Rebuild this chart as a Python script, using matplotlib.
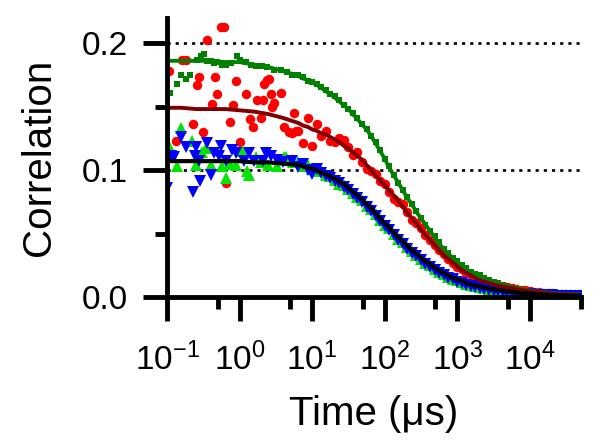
import matplotlib
matplotlib.use('Agg')
import matplotlib.pyplot as plt
from matplotlib.ticker import LogLocator, FixedLocator, NullFormatter, FormatStrFormatter

plt.rcParams['font.family'] = ['Liberation Sans', 'DejaVu Sans']
plt.rcParams['mathtext.fontset'] = 'custom'
plt.rcParams['mathtext.rm'] = 'Liberation Sans'
plt.rcParams['mathtext.it'] = 'Liberation Sans:italic'
plt.rcParams['mathtext.default'] = 'regular'

# ---------------- data (lag time in microseconds, correlation) ----------------
grid_t = [6.49, 7.50, 8.66, 10.0, 11.5, 13.3, 15.4, 17.8, 20.5, 23.7, 27.4, 31.6, 36.5, 42.2,
          48.7, 56.2, 64.9, 75.0, 86.6, 100, 115, 133, 154, 178, 205, 237, 274, 316, 365, 422,
          487, 562, 649, 750, 866, 1000, 1155, 1334, 1540, 1778, 2054, 2371, 2738, 3162, 3652,
          4217, 4870, 5623, 6494, 7499, 8660, 10000, 11550, 13340, 15400, 17780, 20540, 23710,
          27380, 31620, 36520, 42170, 48700]

# green squares
gsq_early_t = [0.110, 0.137, 0.156, 0.182, 0.207, 0.258, 0.293, 0.322, 0.355, 0.401, 0.442, 0.486,
               0.569, 0.645, 0.753, 0.915, 1.03, 1.22, 1.43, 1.67, 2.02, 2.36, 2.96, 3.68, 4.44, 5.21]
gsq_early_g = [0.161, 0.168, 0.175, 0.172, 0.175, 0.187, 0.190, 0.191, 0.186, 0.186, 0.184, 0.185,
               0.183, 0.183, 0.184, 0.190, 0.187, 0.185, 0.183, 0.182, 0.182, 0.181, 0.179, 0.179,
               0.177, 0.175]
gsq_dense_g = [0.175, 0.173, 0.170, 0.169, 0.168, 0.165, 0.163, 0.160, 0.158, 0.155, 0.151, 0.148,
               0.145, 0.141, 0.136, 0.132, 0.127, 0.122, 0.116, 0.109, 0.103, 0.096, 0.090, 0.084,
               0.079, 0.073, 0.068, 0.062, 0.057, 0.052, 0.048, 0.043, 0.038, 0.035, 0.031, 0.028,
               0.025, 0.023, 0.020, 0.018, 0.017, 0.015, 0.013, 0.012, 0.011, 0.0097, 0.0088,
               0.0081, 0.0073, 0.0066, 0.0059, 0.0053, 0.0047, 0.0042, 0.0038, 0.0034, 0.0032,
               0.0029, 0.0026, 0.0025, 0.0023, 0.0022, 0.0021]

# red circles
red_early_t = [0.106, 0.133, 0.161, 0.182, 0.227, 0.258, 0.275, 0.312, 0.355, 0.415, 0.456, 0.486,
               0.552, 0.620, 0.645, 0.730, 0.803, 0.886, 1.00, 1.22, 1.38, 1.52, 1.72, 1.95, 2.08,
               2.15, 2.36, 2.52, 2.69, 2.78, 2.96, 3.68, 4.04, 4.74, 5.21, 5.56, 5.93]
red_early_g = [0.178, 0.123, 0.187, 0.187, 0.136, 0.167, 0.173, 0.130, 0.202, 0.152, 0.173, 0.160,
               0.213, 0.213, 0.090, 0.138, 0.151, 0.170, 0.122, 0.160, 0.140, 0.134, 0.155, 0.141,
               0.155, 0.168, 0.171, 0.172, 0.160, 0.150, 0.153, 0.161, 0.134, 0.130, 0.129, 0.145,
               0.131]
red_dense_g = [0.131, 0.121, 0.141, 0.119, 0.136, 0.127, 0.131, 0.123, 0.122, 0.125, 0.124, 0.118,
               0.112, 0.114, 0.106, 0.101, 0.099, 0.097, 0.091, 0.089, 0.083, 0.077, 0.075, 0.073,
               0.067, 0.061, 0.058, 0.054, 0.049, 0.045, 0.041, 0.037, 0.034, 0.030, 0.027, 0.024,
               0.022, 0.019, 0.017, 0.015, 0.014, 0.012, 0.011, 0.0098, 0.0092, 0.0082, 0.0077,
               0.0069, 0.0064, 0.0056, 0.0052, 0.0046, 0.0041, 0.0038, 0.0035, 0.0030, 0.0028,
               0.0024, 0.0022, 0.0021, 0.0018, 0.0017, 0.0015]

# blue down-triangles
blue_early_t = [0.100, 0.1135, 0.125, 0.158, 0.182, 0.227, 0.240, 0.250, 0.275, 0.285, 0.355, 0.401,
                0.442, 0.518, 0.552, 0.645, 0.778, 0.886, 1.14, 1.34, 1.57, 2.08, 2.29, 2.69, 3.3,
                4.0, 5.21]
blue_early_g = [0.086, 0.111, 0.110, 0.126, 0.118, 0.083, 0.111, 0.118, 0.107, 0.091, 0.121, 0.096,
                0.113, 0.111, 0.119, 0.107, 0.116, 0.113, 0.107, 0.113, 0.107, 0.107, 0.113, 0.111,
                0.108, 0.106, 0.107]
blue_dense_g = [0.102, 0.105, 0.100, 0.097, 0.101, 0.098, 0.095, 0.094, 0.091, 0.090, 0.087, 0.084,
                0.081, 0.078, 0.075, 0.071, 0.068, 0.064, 0.060, 0.056, 0.053, 0.049, 0.045, 0.042,
                0.038, 0.035, 0.032, 0.029, 0.026, 0.024, 0.021, 0.019, 0.017, 0.015, 0.014, 0.012,
                0.011, 0.0098, 0.0088, 0.0079, 0.0071, 0.0064, 0.0057, 0.0051, 0.0046, 0.0042,
                0.0038, 0.0034, 0.0030, 0.0027, 0.0024, 0.0021, 0.0019, 0.0017, 0.0015, 0.0013,
                0.0012, 0.0011, 0.0010, 0.0009, 0.0009, 0.0008, 0.0008]

# bright green up-triangles
gtri_early_t = [0.1065, 0.137, 0.156, 0.220, 0.250, 0.302, 0.343, 0.401, 0.569, 0.645, 0.73, 0.90,
                1.07, 1.25, 1.34, 1.67, 2.0, 2.5, 3.25, 4.04, 4.31, 5.5]
gtri_early_g = [0.119, 0.103, 0.133, 0.123, 0.104, 0.114, 0.117, 0.104, 0.103, 0.094, 0.105, 0.104,
                0.115, 0.099, 0.096, 0.110, 0.106, 0.104, 0.103, 0.110, 0.110, 0.106]
gtri_dense_g = [0.106, 0.103, 0.104, 0.101, 0.099, 0.099, 0.096, 0.095, 0.092, 0.089, 0.088, 0.085,
                0.082, 0.079, 0.076, 0.072, 0.069, 0.065, 0.061, 0.057, 0.054, 0.050, 0.046, 0.043,
                0.039, 0.036, 0.033, 0.030, 0.027, 0.025, 0.022, 0.020, 0.018, 0.016, 0.0145, 0.013,
                0.012, 0.0105, 0.0095, 0.0085, 0.0077, 0.0069, 0.0062, 0.0056, 0.0051, 0.0046,
                0.0042, 0.0038, 0.0034, 0.0031, 0.0028, 0.0025, 0.0023, 0.0021, 0.0019, 0.0018,
                0.0017, 0.0016, 0.0015, 0.0014, 0.0014, 0.0013, 0.0013]

# fitted curves
fit_early_t = [0.1, 0.158, 0.251, 0.398, 0.631, 1.0, 1.58, 2.51, 3.98]
fit_green = [0.186, 0.186, 0.186, 0.186, 0.185, 0.185, 0.183, 0.181, 0.178,
             0.174, 0.172, 0.171, 0.169, 0.167, 0.165, 0.162, 0.160, 0.157, 0.154, 0.151, 0.148,
             0.144, 0.140, 0.136, 0.132, 0.127, 0.121, 0.115, 0.109, 0.102, 0.096, 0.090, 0.084,
             0.078, 0.073, 0.067, 0.062, 0.057, 0.052, 0.047, 0.042, 0.038, 0.034, 0.031, 0.028,
             0.025, 0.022, 0.020, 0.018, 0.016, 0.015, 0.013, 0.012, 0.011, 0.0095, 0.0088, 0.008,
             0.0072, 0.0065, 0.0058, 0.0052, 0.0046, 0.0041, 0.0037, 0.0034, 0.0031, 0.0028,
             0.0026, 0.0024, 0.0022, 0.0021, 0.0020]
fit_red = [0.149, 0.149, 0.148, 0.148, 0.148, 0.147, 0.146, 0.144, 0.141,
           0.137, 0.135, 0.134, 0.132, 0.131, 0.129, 0.128, 0.126, 0.124, 0.122, 0.119, 0.117,
           0.114, 0.111, 0.108, 0.104, 0.100, 0.096, 0.092, 0.088, 0.084, 0.080, 0.076, 0.071,
           0.066, 0.062, 0.058, 0.053, 0.049, 0.045, 0.041, 0.037, 0.033, 0.030, 0.027, 0.024,
           0.021, 0.019, 0.017, 0.015, 0.013, 0.012, 0.011, 0.010, 0.009, 0.0083, 0.0076, 0.007,
           0.0063, 0.0057, 0.0051, 0.0046, 0.0042, 0.0038, 0.0034, 0.0030, 0.0027, 0.0024,
           0.0022, 0.0020, 0.0018, 0.0016, 0.0015]
fit_black = [0.107, 0.107, 0.107, 0.107, 0.107, 0.107, 0.106, 0.106, 0.105,
             0.104, 0.103, 0.102, 0.101, 0.100, 0.098, 0.097, 0.095, 0.093, 0.091, 0.089, 0.086,
             0.083, 0.080, 0.077, 0.073, 0.070, 0.066, 0.062, 0.058, 0.055, 0.051, 0.047, 0.044,
             0.040, 0.037, 0.034, 0.031, 0.028, 0.026, 0.023, 0.021, 0.019, 0.017, 0.015, 0.014,
             0.013, 0.011, 0.010, 0.009, 0.0082, 0.0074, 0.0066, 0.0060, 0.0055, 0.0050, 0.0046,
             0.0041, 0.0037, 0.0033, 0.0030, 0.0027, 0.0024, 0.0021, 0.0019, 0.0017, 0.0016,
             0.0014, 0.0013, 0.0012, 0.0011, 0.0010, 0.0010]

y_ticks = [0.0, 0.1, 0.2]
y_minor = [0.05, 0.15]
ref_lines = [0.1, 0.2]

# ---------------- figure ----------------
fig = plt.figure(figsize=(6.0, 4.46), dpi=100)
ax = fig.add_axes([167 / 600, 1 - 297 / 446, (580.5 - 167) / 600, (297 - 18) / 446])

for yv in ref_lines:
    ax.axhline(yv, color='black', lw=1.9, linestyle=(0, (1.2, 1.9)), zorder=1)

ax.plot(gsq_early_t + grid_t, gsq_early_g + gsq_dense_g, linestyle='none', marker='s',
        ms=4.7, mew=0, color='#008000')
ax.plot(red_early_t + grid_t, red_early_g + red_dense_g, linestyle='none', marker='o',
        ms=6.8, mew=0, color='#ff0000')
ax.plot(gtri_early_t + grid_t, gtri_early_g + gtri_dense_g, linestyle='none', marker='^',
        ms=8.0, mew=0, color='#00e600')
ax.plot(blue_early_t + grid_t, blue_early_g + blue_dense_g, linestyle='none', marker='v',
        ms=8.0, mew=0, color='#0000ff')

fit_t = fit_early_t + grid_t
ax.plot(fit_t, fit_green, color='#008000', lw=2.8)
ax.plot(fit_t, fit_red, color='#800000', lw=2.8)
ax.plot(fit_t, fit_black, color='black', lw=3.0)

ax.set_xscale('log')
ax.set_xlim(0.1, 5e4)
ax.set_ylim(0.0, 0.2197)

ax.xaxis.set_major_locator(LogLocator(base=10, numticks=20))
ax.xaxis.set_minor_locator(LogLocator(base=10, subs=(5.0,), numticks=20))
ax.xaxis.set_minor_formatter(NullFormatter())
ax.yaxis.set_major_locator(FixedLocator(y_ticks))
ax.yaxis.set_minor_locator(FixedLocator(y_minor))
ax.yaxis.set_major_formatter(FormatStrFormatter('%.1f'))

for s in ['top', 'right']:
    ax.spines[s].set_visible(False)
for s in ['left', 'bottom']:
    ax.spines[s].set_linewidth(3.5)

ax.tick_params(which='major', direction='out', length=17, width=3.5, labelsize=24)
ax.tick_params(which='minor', direction='out', length=8.6, width=3.5)
ax.tick_params(axis='y', which='major', pad=11)
ax.tick_params(axis='x', which='major', pad=16)

ax.set_xlabel('Time (\u03bcs)', fontsize=29, labelpad=13)
ax.set_ylabel('Correlation', fontsize=29, labelpad=17)

fig.savefig('out.png', dpi=100)
